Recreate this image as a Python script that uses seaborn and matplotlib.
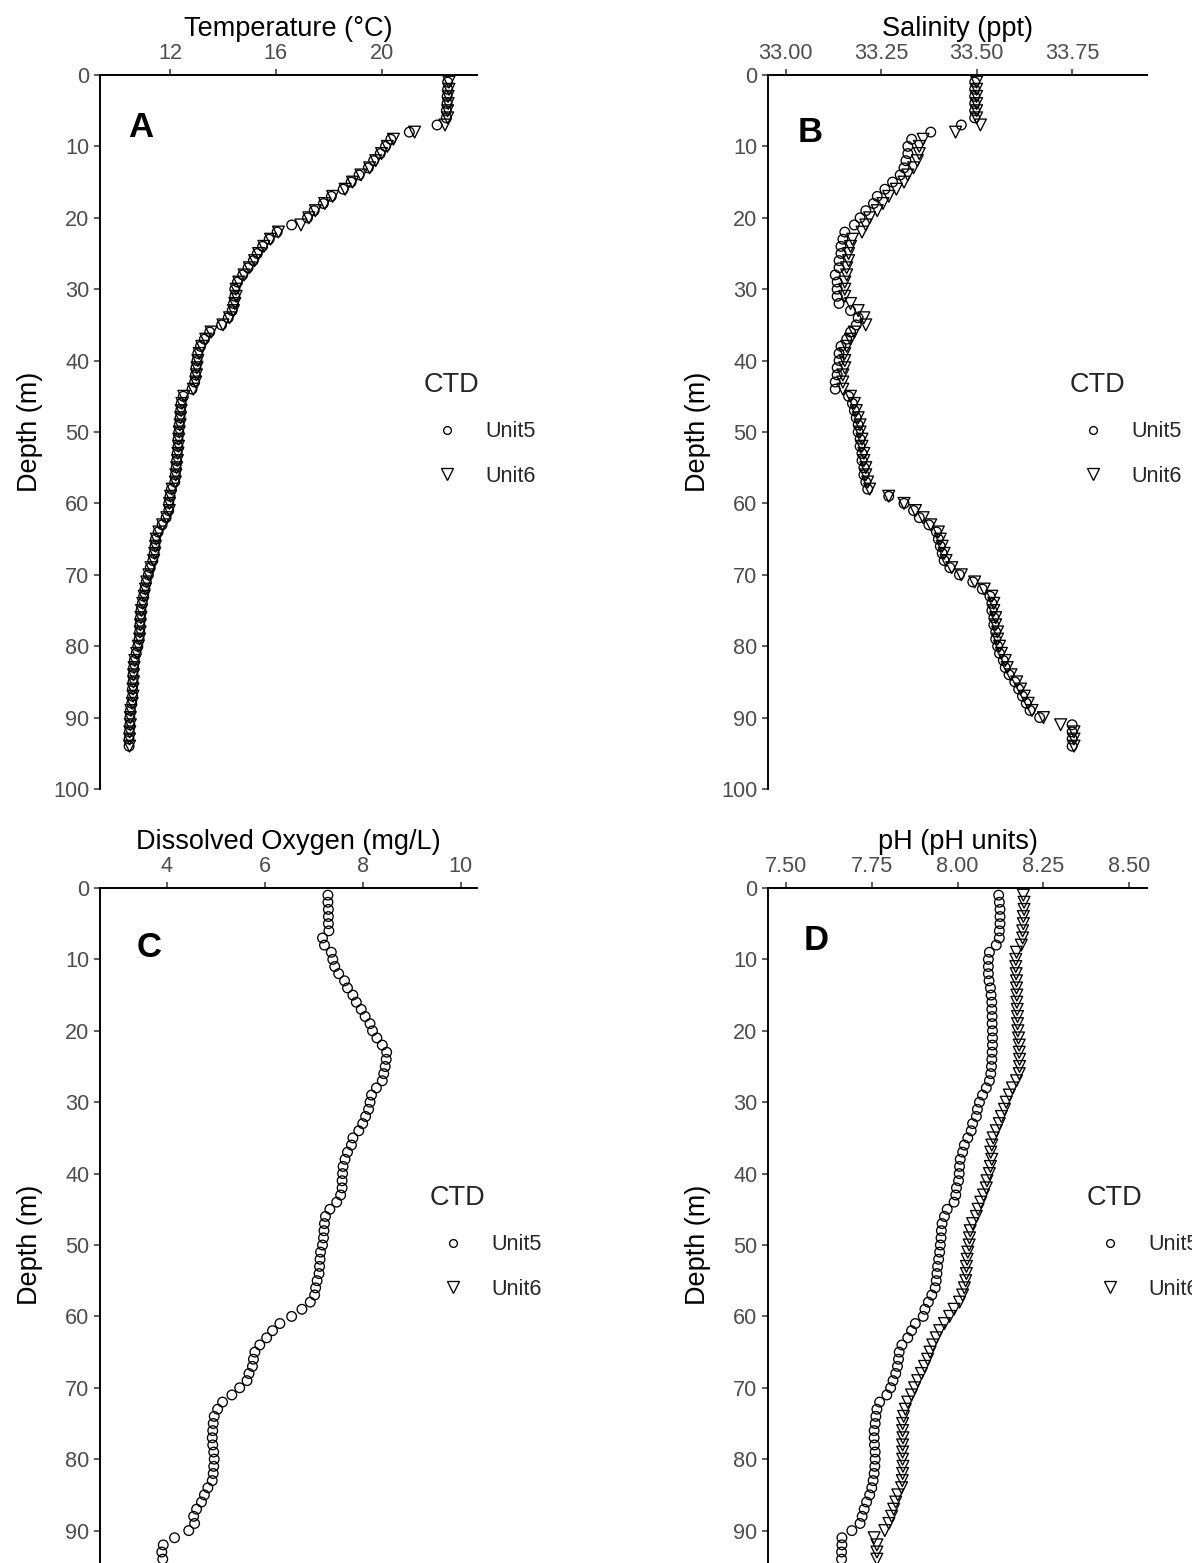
import matplotlib
matplotlib.use("Agg")
import matplotlib.pyplot as plt
from matplotlib.lines import Line2D
import pandas as pd
import seaborn as sns

# Sampling depths (m) of the CTD casts
depth = list(range(1, 95))

# Temperature (deg C)
temp_unit5 = [
    22.50, 22.50, 22.48, 22.48, 22.45, 22.45, 22.10, 21.05, 20.35, 20.15,
    19.95, 19.70, 19.50, 19.15, 18.85, 18.55, 18.10, 17.80, 17.45, 17.20,
    16.60, 16.05, 15.75, 15.50, 15.30, 15.15, 14.95, 14.75, 14.55, 14.45,
    14.45, 14.40, 14.35, 14.20, 13.95, 13.50, 13.30, 13.15, 13.05, 13.02,
    12.98, 12.96, 12.93, 12.83, 12.50, 12.42, 12.40, 12.38, 12.35, 12.33,
    12.30, 12.30, 12.27, 12.25, 12.23, 12.20, 12.18, 12.05, 12.00, 11.95,
    11.95, 11.85, 11.70, 11.55, 11.45, 11.43, 11.40, 11.35, 11.25, 11.18,
    11.10, 11.05, 11.00, 10.95, 10.90, 10.88, 10.86, 10.85, 10.83, 10.78,
    10.72, 10.65, 10.62, 10.60, 10.60, 10.58, 10.58, 10.55, 10.50, 10.48,
    10.48, 10.46, 10.45, 10.45,
]
temp_unit6 = [
    22.55, 22.55, 22.52, 22.52, 22.50, 22.50, 22.40, 21.25, 20.45, 20.22,
    20.00, 19.78, 19.55, 19.22, 18.90, 18.62, 18.15, 17.85, 17.50, 17.25,
    16.95, 16.10, 15.80, 15.55, 15.35, 15.20, 15.00, 14.80, 14.60, 14.50,
    14.50, 14.45, 14.40, 14.25, 14.00, 13.55, 13.35, 13.20, 13.10, 13.05,
    13.02, 13.00, 12.97, 12.88, 12.52, 12.45, 12.42, 12.40, 12.38, 12.35,
    12.33, 12.32, 12.30, 12.28, 12.25, 12.22, 12.20, 12.08, 12.02, 11.98,
    11.97, 11.88, 11.72, 11.58, 11.48, 11.45, 11.42, 11.38, 11.28, 11.20,
    11.12, 11.07, 11.02, 10.97, 10.92, 10.90, 10.88, 10.87, 10.85, 10.80,
    10.74, 10.67, 10.64, 10.62, 10.62, 10.60, 10.60, 10.57, 10.52, 10.50,
    10.50, 10.48, 10.47, 10.47,
]

# Salinity (ppt)
sal_unit5 = [
    33.495, 33.495, 33.495, 33.495, 33.495, 33.495, 33.460, 33.380, 33.330, 33.320,
    33.320, 33.315, 33.310, 33.300, 33.280, 33.260, 33.240, 33.230, 33.210, 33.195,
    33.180, 33.155, 33.150, 33.145, 33.145, 33.140, 33.140, 33.130, 33.135, 33.135,
    33.135, 33.140, 33.170, 33.190, 33.185, 33.170, 33.160, 33.145, 33.140, 33.140,
    33.135, 33.135, 33.130, 33.130, 33.165, 33.175, 33.180, 33.185, 33.190, 33.190,
    33.195, 33.195, 33.200, 33.200, 33.205, 33.205, 33.210, 33.215, 33.270, 33.310,
    33.335, 33.350, 33.375, 33.395, 33.400, 33.405, 33.410, 33.415, 33.430, 33.455,
    33.490, 33.515, 33.535, 33.540, 33.540, 33.545, 33.545, 33.550, 33.550, 33.555,
    33.560, 33.570, 33.575, 33.585, 33.600, 33.610, 33.620, 33.630, 33.640, 33.665,
    33.750, 33.750, 33.750, 33.750,
]
sal_unit6 = [
    33.500, 33.500, 33.500, 33.500, 33.500, 33.500, 33.510, 33.445, 33.360, 33.350,
    33.350, 33.345, 33.335, 33.320, 33.310, 33.290, 33.270, 33.255, 33.240, 33.220,
    33.210, 33.200, 33.175, 33.170, 33.165, 33.165, 33.160, 33.160, 33.155, 33.155,
    33.155, 33.170, 33.190, 33.205, 33.210, 33.180, 33.170, 33.160, 33.155, 33.155,
    33.155, 33.150, 33.150, 33.150, 33.170, 33.180, 33.185, 33.190, 33.195, 33.195,
    33.200, 33.200, 33.205, 33.205, 33.210, 33.210, 33.215, 33.220, 33.270, 33.310,
    33.340, 33.360, 33.380, 33.400, 33.405, 33.410, 33.415, 33.420, 33.435, 33.460,
    33.495, 33.520, 33.540, 33.545, 33.545, 33.550, 33.550, 33.555, 33.555, 33.560,
    33.565, 33.575, 33.580, 33.590, 33.605, 33.615, 33.625, 33.635, 33.645, 33.675,
    33.720, 33.755, 33.755, 33.755,
]

# Dissolved oxygen (mg/L) -- only Unit5 logged oxygen
do_unit5 = [
    7.29, 7.29, 7.30, 7.30, 7.30, 7.31, 7.18, 7.22, 7.36, 7.39,
    7.43, 7.51, 7.63, 7.69, 7.80, 7.87, 7.97, 8.05, 8.15, 8.20,
    8.29, 8.40, 8.49, 8.48, 8.46, 8.43, 8.40, 8.28, 8.18, 8.15,
    8.12, 8.06, 8.00, 7.92, 7.80, 7.77, 7.69, 7.64, 7.60, 7.59,
    7.58, 7.58, 7.55, 7.47, 7.33, 7.24, 7.22, 7.21, 7.20, 7.18,
    7.14, 7.13, 7.12, 7.11, 7.07, 7.04, 7.02, 6.93, 6.76, 6.55,
    6.31, 6.16, 6.04, 5.90, 5.80, 5.77, 5.75, 5.68, 5.64, 5.49,
    5.33, 5.14, 5.04, 4.97, 4.95, 4.94, 4.93, 4.94, 4.96, 4.97,
    4.96, 4.95, 4.93, 4.84, 4.77, 4.71, 4.61, 4.55, 4.57, 4.45,
    4.16, 3.93, 3.90, 3.92,
]

# pH (pH units)
ph_unit5 = [
    8.120, 8.122, 8.124, 8.124, 8.124, 8.122, 8.122, 8.113, 8.093, 8.090,
    8.090, 8.090, 8.092, 8.096, 8.098, 8.100, 8.100, 8.101, 8.101, 8.102,
    8.102, 8.102, 8.101, 8.100, 8.099, 8.097, 8.093, 8.084, 8.073, 8.064,
    8.058, 8.055, 8.044, 8.040, 8.030, 8.020, 8.015, 8.008, 8.006, 8.005,
    8.003, 7.997, 7.995, 7.990, 7.970, 7.962, 7.955, 7.953, 7.952, 7.950,
    7.948, 7.945, 7.942, 7.940, 7.938, 7.935, 7.925, 7.915, 7.905, 7.900,
    7.877, 7.866, 7.855, 7.838, 7.830, 7.828, 7.825, 7.820, 7.812, 7.805,
    7.794, 7.773, 7.765, 7.762, 7.760, 7.757, 7.757, 7.758, 7.760, 7.760,
    7.759, 7.757, 7.754, 7.750, 7.744, 7.735, 7.728, 7.722, 7.716, 7.692,
    7.663, 7.663, 7.662, 7.662,
]
ph_unit6 = [
    8.192, 8.194, 8.194, 8.192, 8.192, 8.190, 8.190, 8.186, 8.172, 8.170,
    8.170, 8.171, 8.172, 8.172, 8.173, 8.173, 8.174, 8.175, 8.175, 8.176,
    8.178, 8.180, 8.180, 8.181, 8.181, 8.180, 8.172, 8.160, 8.151, 8.142,
    8.137, 8.128, 8.122, 8.113, 8.104, 8.100, 8.097, 8.100, 8.096, 8.093,
    8.086, 8.084, 8.076, 8.068, 8.060, 8.055, 8.044, 8.037, 8.035, 8.034,
    8.030, 8.028, 8.026, 8.026, 8.024, 8.020, 8.015, 8.006, 7.990, 7.977,
    7.962, 7.948, 7.938, 7.928, 7.920, 7.913, 7.904, 7.895, 7.884, 7.875,
    7.866, 7.855, 7.848, 7.843, 7.840, 7.840, 7.841, 7.840, 7.840, 7.840,
    7.841, 7.840, 7.839, 7.837, 7.826, 7.820, 7.814, 7.808, 7.800, 7.788,
    7.757, 7.765, 7.765, 7.765,
]

units = ["Unit5", "Unit6"]
unit_markers = {"Unit5": "o", "Unit6": "v"}
unit_sizes = {"Unit5": 48, "Unit6": 72}
legend_marker_pts = {"Unit5": 5.6, "Unit6": 9.0}

panels = [
    dict(letter="A", title="Temperature (\u00b0C)",
         series={"Unit5": temp_unit5, "Unit6": temp_unit6},
         xlim=(9.35, 23.61), xticks=[12, 16, 20], xticklabels=["12", "16", "20"],
         yticks=list(range(0, 101, 10)), ylabelpad=7,
         rect=[100, 75, 377], letter_xy=(0.109, 0.913), legend_xy=(424, 372)),
    dict(letter="B", title="Salinity (ppt)",
         series={"Unit5": sal_unit5, "Unit6": sal_unit6},
         xlim=(32.954, 33.946), xticks=[33.00, 33.25, 33.50, 33.75],
         xticklabels=["33.00", "33.25", "33.50", "33.75"],
         yticks=list(range(0, 101, 10)), ylabelpad=7,
         rect=[768, 75, 379], letter_xy=(0.112, 0.906), legend_xy=(1070, 372)),
    dict(letter="C", title="Dissolved Oxygen (mg/L)",
         series={"Unit5": do_unit5},
         xlim=(2.639, 10.333), xticks=[4, 6, 8, 10], xticklabels=["4", "6", "8", "10"],
         yticks=list(range(0, 91, 10)), ylabelpad=15.7,
         rect=[100, 888, 377], letter_xy=(0.129, 0.903), legend_xy=(430, 1185)),
    dict(letter="D", title="pH (pH units)",
         series={"Unit5": ph_unit5, "Unit6": ph_unit6},
         xlim=(7.4475, 8.5525), xticks=[7.50, 7.75, 8.00, 8.25, 8.50],
         xticklabels=["7.50", "7.75", "8.00", "8.25", "8.50"],
         yticks=list(range(0, 91, 10)), ylabelpad=15.7,
         rect=[768, 888, 379], letter_xy=(0.127, 0.913), legend_xy=(1087, 1185)),
]

sns.set_theme(style="ticks")
plt.rcParams["font.family"] = ["Liberation Sans", "DejaVu Sans"]

W, H = 1192, 1563
PANEL_H = 714
fig = plt.figure(figsize=(W / 100, H / 100), dpi=100)

TITLE_SIZE = 19.5
TEXT_SIZE = 15.6

for p in panels:
    left, top, width = p["rect"]
    ax = fig.add_axes([left / W, 1 - (top + PANEL_H) / H, width / W, PANEL_H / H])

    frames = [pd.DataFrame({"Depth": depth, "Value": vals, "CTD": unit})
              for unit, vals in p["series"].items()]
    df = pd.concat(frames, ignore_index=True)

    sns.scatterplot(data=df, x="Value", y="Depth",
                    style="CTD", style_order=units, markers=unit_markers,
                    size="CTD", size_order=units, sizes=unit_sizes,
                    color="black", facecolors="none", edgecolor="black",
                    linewidth=0.95, legend=False, ax=ax, clip_on=False, zorder=3)

    ax.set_xlim(*p["xlim"])
    ax.set_ylim(100, 0)
    ax.set_xticks(p["xticks"])
    ax.set_xticklabels(p["xticklabels"])
    ax.set_yticks(p["yticks"])
    ax.xaxis.tick_top()
    ax.xaxis.set_label_position("top")
    ax.set_xlabel(p["title"], fontsize=TITLE_SIZE, color="black", labelpad=5)
    ax.set_ylabel("Depth (m)", fontsize=TITLE_SIZE, color="black",
                  labelpad=p["ylabelpad"])

    for side in ["right", "bottom"]:
        ax.spines[side].set_visible(False)
    for side in ["left", "top"]:
        ax.spines[side].set_linewidth(1.4)
        ax.spines[side].set_color("black")
    ax.tick_params(axis="both", length=4.3, width=1.1, color="#333333",
                   labelsize=TEXT_SIZE, labelcolor="#4D4D4D", pad=3.5)
    ax.grid(False)
    ax.set_facecolor("white")

    ax.text(p["letter_xy"][0], p["letter_xy"][1], p["letter"], transform=ax.transAxes,
            fontsize=25, fontweight="bold", ha="center", va="baseline", color="black")

    handles = [Line2D([], [], marker=unit_markers[u], linestyle="none",
                      markerfacecolor="none", markeredgecolor="black",
                      markeredgewidth=0.95, markersize=legend_marker_pts[u], label=u)
               for u in units]
    lx, ly = p["legend_xy"]
    ax.legend(handles=handles, title="CTD", loc="upper left",
              bbox_to_anchor=(lx / W, 1 - ly / H), bbox_transform=fig.transFigure,
              frameon=False, fontsize=TEXT_SIZE, title_fontsize=TITLE_SIZE,
              handlelength=2.12, handletextpad=0.69, labelspacing=1.08,
              borderpad=0, borderaxespad=0, alignment="left")

fig.savefig("out.png", dpi=100, facecolor="white")
